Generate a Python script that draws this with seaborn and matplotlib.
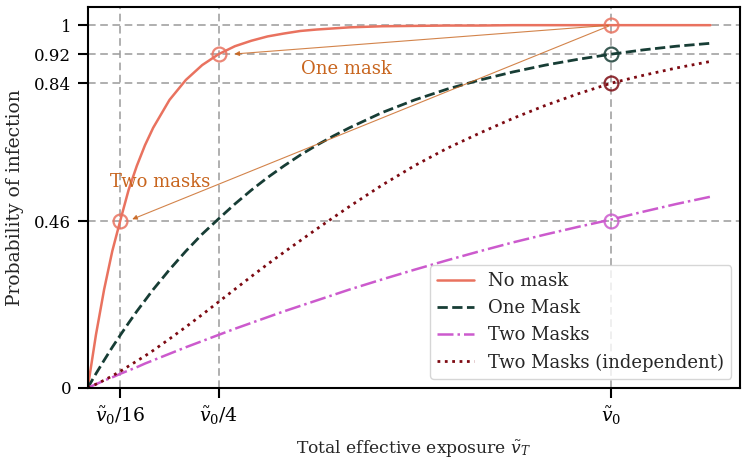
import matplotlib
matplotlib.use("Agg")
import matplotlib.pyplot as plt
import seaborn as sns

# Exposure in units of v0 and probabilities
exposure = [0, 0.015625, 0.03125, 0.046875, 0.0625, 0.078125, 0.09375, 0.109375, 0.125,
            0.15625, 0.1875, 0.21875, 0.25, 0.28125, 0.3125, 0.34375, 0.375, 0.40625,
            0.4375, 0.46875, 0.5, 0.5625, 0.625, 0.6875, 0.75, 0.8125, 0.875, 0.9375,
            1.0, 1.0625, 1.125, 1.19]

no_mask = [0, 0.146, 0.271, 0.377, 0.463, 0.546, 0.612, 0.669, 0.717,
           0.794, 0.849, 0.890, 0.92, 0.942, 0.957, 0.969, 0.977, 0.984,
           0.988, 0.991, 0.994, 0.997, 0.998, 0.999, 0.999, 1.0, 1.0, 1.0,
           1.0, 1.0, 1.0, 1.0]
one_mask = [0, 0.039, 0.076, 0.112, 0.146, 0.179, 0.211, 0.241, 0.271,
            0.326, 0.377, 0.424, 0.466, 0.507, 0.545, 0.580, 0.612, 0.642,
            0.669, 0.694, 0.717, 0.759, 0.794, 0.824, 0.849, 0.871, 0.890, 0.906,
            0.92, 0.932, 0.942, 0.950]
two_masks = [0, 0.010, 0.020, 0.029, 0.039, 0.048, 0.057, 0.067, 0.076,
             0.094, 0.112, 0.129, 0.146, 0.163, 0.179, 0.195, 0.211, 0.226,
             0.241, 0.256, 0.271, 0.299, 0.326, 0.352, 0.377, 0.401, 0.423, 0.444,
             0.464, 0.486, 0.507, 0.527]
two_masks_indep = [0, 0.010, 0.021, 0.033, 0.046, 0.060, 0.074, 0.088, 0.103,
                   0.135, 0.168, 0.202, 0.237, 0.272, 0.307, 0.341, 0.374, 0.406,
                   0.438, 0.469, 0.500, 0.559, 0.613, 0.661, 0.703, 0.743, 0.779, 0.811,
                   0.84, 0.862, 0.882, 0.900]

y_ticks = [0, 0.46, 0.84, 0.92, 1]
y_labels = ["0", "0.46", "0.84", "0.92", "1"]
x_ticks = [1 / 16, 1 / 4, 1]
x_labels = [r"$\tilde{v}_0/16$", r"$\tilde{v}_0/4$", r"$\tilde{v}_0$"]

c_none, c_one, c_two, c_ind = "#e9725f", "#173d35", "#cc5acd", "#7d0a12"

# marked points (x, y, colour)
marked = [(1 / 16, 0.46, c_none), (1 / 4, 0.92, c_none), (1, 1, c_none),
          (1, 0.92, c_one), (1, 0.84, c_ind), (1, 0.46, c_two)]

sns.set_style("ticks")
plt.rcParams["font.family"] = ["DejaVu Serif"]
plt.rcParams["mathtext.fontset"] = "dejavuserif"
plt.rcParams["font.size"] = 13

fig = plt.figure(figsize=(7.5, 4.69), dpi=100)
ax = fig.add_axes([0.117, 0.173, 0.870, 0.812])

grid_kw = dict(color="#9a9a9a", lw=1.1, ls=(0, (5, 3)), zorder=0)
for xt in x_ticks:
    ax.axvline(xt, **grid_kw)
for yt in y_ticks[1:]:
    ax.axhline(yt, **grid_kw)

sns.lineplot(x=exposure, y=no_mask, ax=ax, color=c_none, lw=1.8, label="No mask")
sns.lineplot(x=exposure, y=one_mask, ax=ax, color=c_one, lw=2.0, ls="--", label="One Mask")
sns.lineplot(x=exposure, y=two_masks, ax=ax, color=c_two, lw=1.8, ls="-.", label="Two Masks")
sns.lineplot(x=exposure, y=two_masks_indep, ax=ax, color=c_ind, lw=2.0, ls=":",
             label="Two Masks (independent)")

for mx, my, mc in marked:
    ax.plot(mx, my, "o", ms=10, mfc="none", mec=mc, mew=1.6, alpha=0.85, zorder=5)

note_color = "#c8651e"
arrow_kw = dict(arrowstyle="-|>", color=note_color, lw=0.8, mutation_scale=7, alpha=0.8)
ax.annotate("", xy=(0.275, 0.92), xytext=(1, 1), arrowprops=arrow_kw)
ax.annotate("", xy=(0.08, 0.462), xytext=(1, 1), arrowprops=arrow_kw)
ax.text(0.495, 0.878, "One mask", color=note_color, ha="center", va="center", fontsize=13)
ax.text(0.139, 0.568, "Two masks", color=note_color, ha="center", va="center", fontsize=13)

ax.set_xlim(0, 1.247)
ax.set_ylim(0, 1.05)
ax.set_xticks(x_ticks, x_labels)
ax.set_yticks(y_ticks, y_labels)
ax.tick_params(direction="out", length=7, width=1.5, pad=5, colors="black")
ax.tick_params(axis="x", labelsize=13.5)
ax.tick_params(axis="y", labelsize=12)
for s in ax.spines.values():
    s.set_linewidth(1.5)
    s.set_color("black")

ax.set_xlabel(r"Total effective exposure $\tilde{v}_T$", fontsize=12.3, labelpad=8)
ax.set_ylabel("Probability of infection", fontsize=13.5)
ax.yaxis.set_label_coords(-0.097, 0.5)
ax.legend(loc="lower right", fontsize=13, frameon=True, fancybox=True, framealpha=0.8,
          handlelength=2.0)

fig.savefig("out.png", dpi=100)
